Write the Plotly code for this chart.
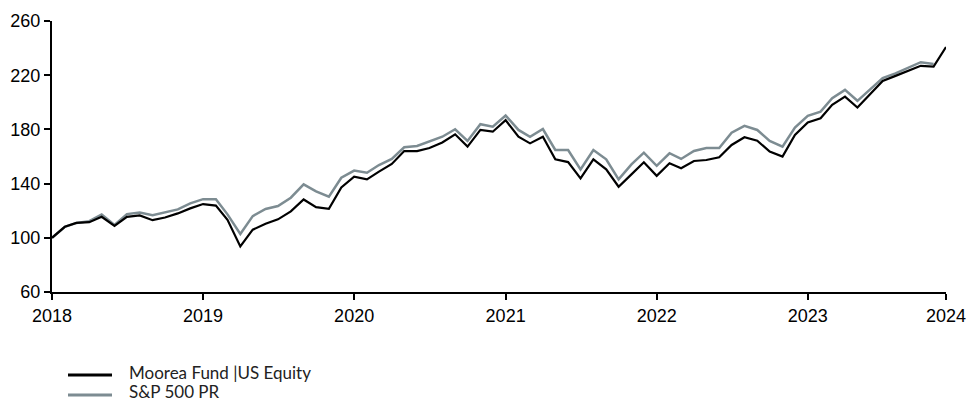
import pandas as pd
import plotly.graph_objects as go

dates = pd.date_range("2018-01-01", periods=72, freq="MS")

fund_name = "Moorea Fund |US Equity"
fund = [100.0, 108.1, 111.0, 111.5, 115.5, 108.8, 115.5, 116.5, 113.0, 115.0, 118.0, 121.7,
        124.9, 123.8, 113.3, 93.6, 106.0, 110.3, 113.6, 119.5, 128.3, 122.6, 121.4, 137.2,
        145.1, 143.1, 148.8, 154.5, 164.0, 164.0, 166.3, 170.3, 176.4, 167.3, 179.6, 178.3,
        186.8, 174.6, 169.7, 174.6, 157.9, 155.9, 143.9, 157.9, 150.5, 137.7, 146.8, 155.7,
        145.7, 155.0, 151.3, 156.7, 157.4, 159.4, 168.5, 174.2, 171.7, 163.6, 159.9, 175.9,
        185.2, 188.2, 198.1, 204.2, 196.1, 206.2, 215.8, 219.5, 223.2, 226.9, 226.4, 240.8]

spx_name = "S&P 500 PR"
spx = [100.0, 108.1, 111.0, 112.3, 117.2, 109.5, 117.5, 118.7, 116.7, 118.7, 121.0, 125.4,
       128.5, 128.4, 117.3, 102.8, 116.0, 121.3, 123.4, 129.6, 139.4, 134.2, 130.3, 144.3,
       149.6, 148.0, 153.7, 158.2, 166.8, 167.8, 171.0, 174.6, 180.1, 171.5, 183.8, 182.0,
       190.2, 179.6, 174.6, 180.3, 164.8, 164.8, 150.5, 164.8, 157.9, 143.1, 154.2, 162.8,
       153.1, 162.4, 158.2, 164.1, 166.3, 166.3, 177.6, 182.6, 179.6, 171.5, 167.3, 181.3,
       190.0, 193.1, 203.0, 209.2, 201.1, 209.9, 217.8, 221.4, 225.7, 229.6, 228.2]

year_ticks = ["2018-01-01", "2019-01-01", "2020-01-01", "2021-01-01",
              "2022-01-01", "2023-01-01", "2023-12-01"]
year_labels = ["2018", "2019", "2020", "2021", "2022", "2023", "2024"]
y_ticks = [60, 100, 140, 180, 220, 260]

fund_color = "#000000"
spx_color = "#7d8c92"

fig = go.Figure()
fig.add_trace(go.Scatter(x=dates[:len(spx)], y=spx, name=spx_name, mode="lines",
                         line=dict(color=spx_color, width=2.5), showlegend=False))
fig.add_trace(go.Scatter(x=dates, y=fund, name=fund_name, mode="lines",
                         line=dict(color=fund_color, width=2.2), showlegend=False))

axis_font = dict(family="Liberation Sans, Arial, sans-serif", size=18, color="#000000")
fig.update_xaxes(range=[dates[0], dates[-1]], tickvals=year_ticks, ticktext=year_labels,
                 showgrid=False, zeroline=False, showline=True, linecolor="#000000",
                 linewidth=2, ticks="outside", ticklen=6, tickwidth=1.5,
                 tickcolor="#000000", tickfont=axis_font, automargin=False)
fig.update_yaxes(range=[60, 260], tickvals=y_ticks, showgrid=False, zeroline=False,
                 showline=True, linecolor="#000000", linewidth=2, ticks="outside",
                 ticklen=6, tickwidth=1.5, tickcolor="#000000", tickfont=axis_font,
                 automargin=False)

# legend drawn below the plot
plot_left, plot_width = 52, 894
plot_top, plot_bottom = 21, 292
h = plot_bottom - plot_top
def ypaper(px):
    return (plot_bottom - px) / h
def xpaper(px):
    return (px - plot_left) / plot_width

legend_items = [(fund_name, fund_color, 375), (spx_name, spx_color, 395)]
for name, color, ypx in legend_items:
    fig.add_shape(type="line", xref="paper", yref="paper",
                  x0=xpaper(68), x1=xpaper(112),
                  y0=ypaper(ypx), y1=ypaper(ypx),
                  line=dict(color=color, width=3))
    fig.add_annotation(xref="paper", yref="paper", x=xpaper(127),
                       y=ypaper(ypx - 3), text=name, showarrow=False,
                       xanchor="left", yanchor="middle",
                       font=dict(family="Lato, Noto Sans, sans-serif", size=17, color="#222222"))

fig.update_layout(width=968, height=403, margin=dict(l=52, r=22, t=21, b=111),
                  plot_bgcolor="white", paper_bgcolor="white", showlegend=False)

fig.write_html("out.html", config={"displayModeBar": False},
               post_script="document.body.style.margin='0';document.body.style.overflow='hidden';")
